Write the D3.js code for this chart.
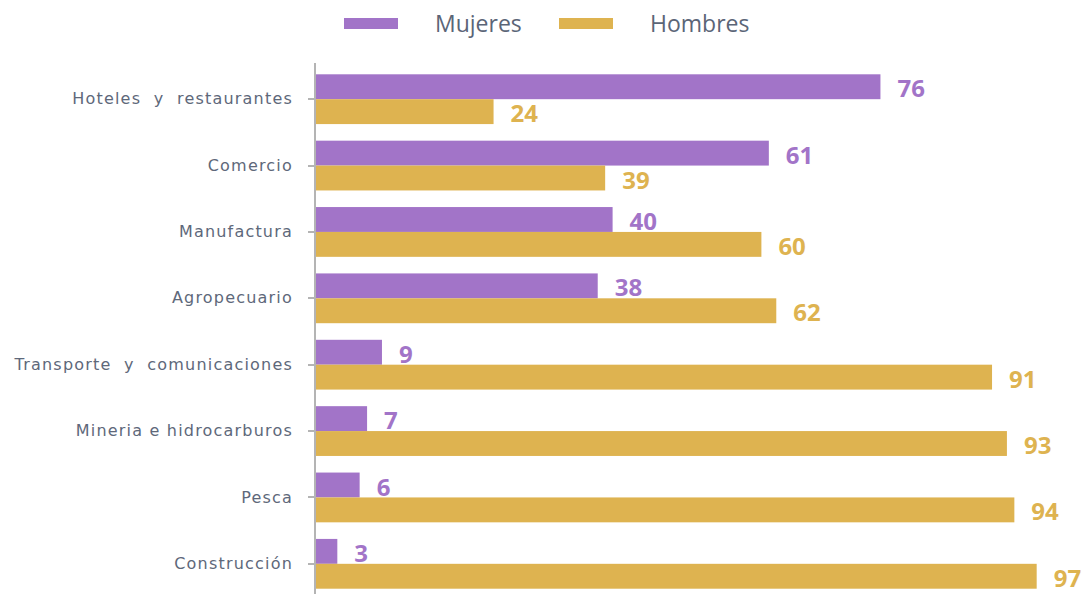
<!DOCTYPE html>
<html lang="es">
<head>
<meta charset="utf-8">
<title>Mujeres y hombres por sector</title>
<script src="https://cdn.jsdelivr.net/npm/d3@7"></script>
<style>
  body { margin: 0; background: #fff; }
  .axis path, .axis line { stroke: #b4b4b4; stroke-width: 2px; shape-rendering: crispEdges; }
  .axis text { font-family: "DejaVu Sans", sans-serif; font-size: 16px; fill: #5e687a; letter-spacing: 1.2px; white-space: pre; }
  .legend text { font-family: "Open Sans", sans-serif; font-size: 23px; fill: #5b6577; }
  .value { font-family: "Open Sans", sans-serif; font-size: 24px; font-weight: 700; }
</style>
</head>
<body>
<script>
// data
var sectors = ["Hoteles  y  restaurantes", "Comercio", "Manufactura", "Agropecuario",
               "Transporte  y  comunicaciones", "Mineria e hidrocarburos", "Pesca", "Construcción"];
var mujeres = [76, 61, 40, 38, 9, 7, 6, 3];
var hombres = [24, 39, 60, 62, 91, 93, 94, 97];
var seriesNames = ["Mujeres", "Hombres"];
var seriesColors = ["#a274c8", "#deb350"];

var w = 1085, h = 594;
var x0 = 315;

var svg = d3.select("body").append("svg")
    .attr("width", w)
    .attr("height", h);

var scaleX = d3.scaleLinear().domain([0, 100]).range([x0, x0 + 744]);
var scaleY = d3.scaleBand().domain(sectors).range([66, 597])
    .paddingInner(0.25).paddingOuter(0.125);
var scaleSub = d3.scaleBand().domain(seriesNames).range([0, scaleY.bandwidth()]);

var rows = sectors.map(function(s, i) {
    return { sector: s, values: [mujeres[i], hombres[i]] };
});

// bars
var groups = svg.selectAll(".row")
    .data(rows)
    .enter().append("g")
    .attr("class", "row")
    .attr("transform", function(d) { return "translate(0," + scaleY(d.sector) + ")"; });

groups.selectAll("rect")
    .data(function(d) { return d.values; })
    .enter().append("rect")
    .attr("x", scaleX(0))
    .attr("y", function(d, i) { return scaleSub(seriesNames[i]); })
    .attr("width", function(d) { return scaleX(d) - scaleX(0); })
    .attr("height", scaleSub.bandwidth())
    .attr("fill", function(d, i) { return seriesColors[i]; });

groups.selectAll(".value")
    .data(function(d) { return d.values; })
    .enter().append("text")
    .attr("class", "value")
    .attr("x", function(d) { return scaleX(d) + 17; })
    .attr("y", function(d, i) { return scaleSub(seriesNames[i]) + scaleSub.bandwidth() / 2 + 1; })
    .attr("dominant-baseline", "central")
    .attr("fill", function(d, i) { return seriesColors[i]; })
    .text(function(d) { return d; });

// axis
var gY = svg.append("g")
    .attr("class", "axis")
    .attr("transform", "translate(" + x0 + ",0)")
    .call(d3.axisLeft(scaleY).tickSize(7).tickSizeOuter(0).tickPadding(15));
gY.select(".domain").attr("d", "M0,63V594");
gY.selectAll(".tick line").attr("stroke-width", 2);

// legend
var legend = svg.append("g").attr("class", "legend");
var legendX = [344, 559];
seriesNames.forEach(function(name, i) {
    legend.append("rect")
        .attr("x", legendX[i])
        .attr("y", 18)
        .attr("width", 54)
        .attr("height", 11)
        .attr("fill", seriesColors[i]);
    legend.append("text")
        .attr("x", legendX[i] + 91)
        .attr("y", 23)
        .attr("dominant-baseline", "central")
        .text(name);
});
</script>
</body>
</html>
